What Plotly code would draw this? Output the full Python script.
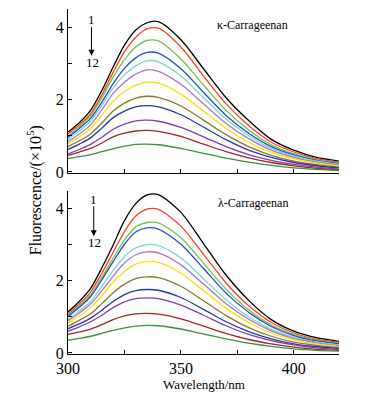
import plotly.graph_objects as go
from plotly.subplots import make_subplots

wavelength = [300, 305, 310, 315, 320, 325, 330, 335, 340, 350, 360, 370, 380, 390, 400, 410, 420]

kappa_1 = [1.10, 1.36, 1.70, 2.25, 2.90, 3.50, 3.92, 4.12, 4.15, 3.65, 2.85, 2.05, 1.42, 0.90, 0.60, 0.40, 0.30]
kappa_2 = [1.05, 1.30, 1.60, 2.13, 2.75, 3.32, 3.72, 3.95, 3.97, 3.45, 2.65, 1.88, 1.28, 0.82, 0.55, 0.37, 0.27]
kappa_3 = [1.00, 1.25, 1.55, 2.05, 2.62, 3.10, 3.45, 3.63, 3.62, 3.12, 2.40, 1.70, 1.16, 0.75, 0.50, 0.34, 0.25]
kappa_4 = [0.96, 1.20, 1.48, 1.93, 2.44, 2.86, 3.15, 3.30, 3.28, 2.85, 2.20, 1.56, 1.07, 0.70, 0.47, 0.32, 0.23]
kappa_5 = [0.90, 1.13, 1.40, 1.84, 2.32, 2.68, 2.93, 3.07, 3.04, 2.65, 2.05, 1.46, 1.00, 0.65, 0.44, 0.30, 0.21]
kappa_6 = [0.84, 1.05, 1.30, 1.72, 2.17, 2.48, 2.70, 2.82, 2.78, 2.42, 1.88, 1.34, 0.92, 0.60, 0.40, 0.27, 0.19]
kappa_7 = [0.78, 0.97, 1.20, 1.56, 1.95, 2.22, 2.40, 2.48, 2.45, 2.15, 1.68, 1.20, 0.82, 0.54, 0.36, 0.24, 0.16]
kappa_8 = [0.70, 0.86, 1.05, 1.35, 1.68, 1.90, 2.04, 2.09, 2.06, 1.82, 1.43, 1.03, 0.70, 0.46, 0.30, 0.20, 0.13]
kappa_9 = [0.62, 0.77, 0.94, 1.21, 1.50, 1.68, 1.80, 1.83, 1.80, 1.58, 1.24, 0.89, 0.60, 0.40, 0.26, 0.17, 0.11]
kappa_10 = [0.50, 0.62, 0.76, 0.96, 1.18, 1.32, 1.41, 1.43, 1.40, 1.23, 0.97, 0.70, 0.48, 0.32, 0.21, 0.13, 0.08]
kappa_11 = [0.46, 0.55, 0.65, 0.80, 0.97, 1.07, 1.13, 1.15, 1.12, 0.98, 0.77, 0.56, 0.39, 0.26, 0.17, 0.10, 0.06]
kappa_12 = [0.37, 0.42, 0.48, 0.56, 0.64, 0.71, 0.76, 0.77, 0.75, 0.65, 0.51, 0.38, 0.27, 0.18, 0.11, 0.07, 0.04]

lambda_1 = [1.13, 1.42, 1.78, 2.35, 2.98, 3.65, 4.12, 4.36, 4.37, 3.88, 3.02, 2.15, 1.45, 0.92, 0.60, 0.42, 0.32]
lambda_2 = [1.07, 1.35, 1.68, 2.20, 2.78, 3.35, 3.78, 3.97, 3.96, 3.50, 2.72, 1.93, 1.30, 0.84, 0.55, 0.38, 0.29]
lambda_3 = [1.03, 1.30, 1.60, 2.09, 2.62, 3.12, 3.48, 3.60, 3.59, 3.18, 2.48, 1.76, 1.19, 0.77, 0.51, 0.35, 0.26]
lambda_4 = [1.00, 1.26, 1.55, 2.02, 2.52, 3.00, 3.34, 3.45, 3.42, 3.00, 2.33, 1.65, 1.12, 0.73, 0.48, 0.33, 0.25]
lambda_5 = [0.92, 1.15, 1.42, 1.84, 2.28, 2.66, 2.90, 2.99, 2.97, 2.62, 2.05, 1.47, 1.00, 0.65, 0.43, 0.30, 0.22]
lambda_6 = [0.88, 1.10, 1.35, 1.72, 2.12, 2.48, 2.71, 2.79, 2.76, 2.43, 1.90, 1.36, 0.93, 0.61, 0.40, 0.28, 0.20]
lambda_7 = [0.83, 1.02, 1.25, 1.58, 1.95, 2.25, 2.45, 2.52, 2.50, 2.20, 1.72, 1.23, 0.84, 0.55, 0.36, 0.25, 0.18]
lambda_8 = [0.74, 0.90, 1.08, 1.36, 1.66, 1.90, 2.05, 2.10, 2.08, 1.84, 1.44, 1.03, 0.70, 0.46, 0.30, 0.21, 0.15]
lambda_9 = [0.67, 0.80, 0.96, 1.18, 1.42, 1.61, 1.72, 1.75, 1.73, 1.53, 1.20, 0.86, 0.59, 0.39, 0.25, 0.17, 0.12]
lambda_10 = [0.60, 0.72, 0.86, 1.04, 1.25, 1.41, 1.50, 1.52, 1.50, 1.32, 1.04, 0.75, 0.51, 0.34, 0.22, 0.14, 0.10]
lambda_11 = [0.51, 0.58, 0.66, 0.78, 0.92, 1.02, 1.08, 1.09, 1.07, 0.94, 0.74, 0.54, 0.37, 0.25, 0.16, 0.10, 0.07]
lambda_12 = [0.35, 0.40, 0.46, 0.54, 0.62, 0.69, 0.74, 0.76, 0.75, 0.66, 0.52, 0.39, 0.27, 0.18, 0.11, 0.07, 0.05]

kappa_series = [kappa_1, kappa_2, kappa_3, kappa_4, kappa_5, kappa_6,
                kappa_7, kappa_8, kappa_9, kappa_10, kappa_11, kappa_12]
lambda_series = [lambda_1, lambda_2, lambda_3, lambda_4, lambda_5, lambda_6,
                 lambda_7, lambda_8, lambda_9, lambda_10, lambda_11, lambda_12]

colors = ["#000000", "#ff4020", "#78c050", "#2050c0", "#80d4d4", "#a878cc",
          "#ffe000", "#8a7a30", "#2838a0", "#8040b0", "#a02828", "#3f9040"]

x_tickvals = [300, 325, 350, 375, 400]
x_ticktext = ["300", "", "350", "", "400"]
y_tickvals = [0, 1, 2, 3, 4]
y_ticktext = ["0", "", "2", "", "4"]

FONT = "Liberation Serif"

fig = make_subplots(rows=2, cols=1, shared_xaxes=False, vertical_spacing=0.05)

for i in range(12):
    fig.add_trace(go.Scatter(x=wavelength, y=kappa_series[i], mode="lines",
                             line=dict(color=colors[i], width=1.3, shape="spline", smoothing=0.8),
                             showlegend=False, hoverinfo="skip"), row=1, col=1)
    fig.add_trace(go.Scatter(x=wavelength, y=lambda_series[i], mode="lines",
                             line=dict(color=colors[i], width=1.3, shape="spline", smoothing=0.8),
                             showlegend=False, hoverinfo="skip"), row=2, col=1)

axis_common = dict(showline=True, linecolor="black", linewidth=1, showgrid=False,
                   zeroline=False, ticks="inside", ticklen=4, tickcolor="black",
                   automargin=False,
                   tickfont=dict(family=FONT, size=16, color="black"))

fig.update_xaxes(range=[300, 420], tickvals=x_tickvals, ticktext=x_ticktext, **axis_common)
fig.update_xaxes(showticklabels=False, row=1, col=1)
fig.update_yaxes(tickvals=y_tickvals, ticktext=y_ticktext, **axis_common)
fig.update_yaxes(range=[-0.03, 4.5], domain=[0.5246, 1.0], row=1, col=1)
fig.update_yaxes(range=[-0.03, 4.47], domain=[0.0, 0.4725], row=2, col=1)

ann = []
ann.append(dict(text="\u03ba-Carrageenan", x=381.9, y=4.07, xref="x", yref="y",
                showarrow=False, font=dict(family=FONT, size=12, color="black")))
ann.append(dict(text="\u03bb-Carrageenan", x=381.9, y=4.15, xref="x2", yref="y2",
                showarrow=False, font=dict(family=FONT, size=12, color="black")))
# arrows 1 -> 12
for xr, yr, xa, y_top, y_tip, y1, y12 in [("x", "y", 310.4, 4.04, 3.21, 4.22, 3.03),
                                           ("x2", "y2", 311.4, 4.09, 3.22, 4.23, 3.04)]:
    ann.append(dict(text="", x=xa, y=y_tip, ax=xa, ay=y_top, xref=xr, yref=yr,
                    axref=xr, ayref=yr, showarrow=True, arrowhead=2, arrowsize=1.2,
                    arrowwidth=1, arrowcolor="black"))
    ann.append(dict(text="1", x=xa, y=y1, xref=xr, yref=yr, showarrow=False,
                    font=dict(family=FONT, size=13, color="black")))
    ann.append(dict(text="12", x=xa + 0.4, y=y12, xref=xr, yref=yr, showarrow=False,
                    font=dict(family=FONT, size=13, color="black")))

ann.append(dict(text="Fluorescence/(\u00d710<sup>5</sup>)", x=-0.125, y=0.475,
                xref="paper", yref="paper", textangle=-90, showarrow=False,
                xanchor="center", yanchor="middle",
                font=dict(family=FONT, size=16, color="black")))
ann.append(dict(text="Wavelength/nm", x=0.5, y=-0.087, xref="paper", yref="paper",
                showarrow=False, xanchor="center", yanchor="middle",
                font=dict(family=FONT, size=13, color="black")))

# page body has an 8px margin: offset layout by -8px so the plot lands where the reference has it
fig.update_layout(width=375, height=388, margin=dict(l=60, r=44, t=1, b=42, autoexpand=False),
                  paper_bgcolor="white", plot_bgcolor="white", annotations=ann,
                  font=dict(family=FONT, color="black"))

fig.write_html("out.html")
